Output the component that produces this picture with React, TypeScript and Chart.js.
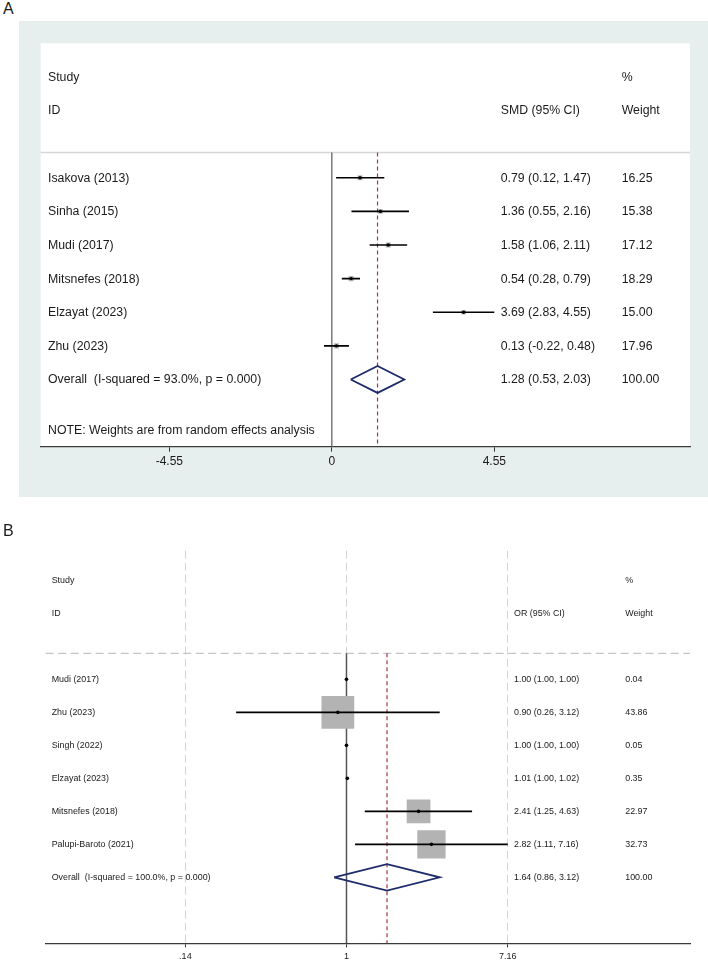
import React, { useEffect, useRef } from "react";
import { Chart, registerables } from "chart.js";

Chart.register(...registerables);

const FONT = '"Liberation Sans", Arial, Helvetica, sans-serif';

// ---------------- Panel A data ----------------
const studiesA = ["Isakova (2013)", "Sinha (2015)", "Mudi (2017)", "Mitsnefes (2018)", "Elzayat (2023)", "Zhu (2023)"];
const smdA = [0.79, 1.36, 1.58, 0.54, 3.69, 0.13];
const lowA = [0.12, 0.55, 1.06, 0.28, 2.83, -0.22];
const highA = [1.47, 2.16, 2.11, 0.79, 4.55, 0.48];
const weightA = [16.25, 15.38, 17.12, 18.29, 15.0, 17.96];
const overallA = [1.28, 0.53, 2.03];
const overallLabelA = "Overall  (I-squared = 93.0%, p = 0.000)";
const noteA = "NOTE: Weights are from random effects analysis";
const tickValuesA = [-4.55, 0, 4.55];
const tickLabelsA = ["-4.55", "0", "4.55"];

// ---------------- Panel B data ----------------
const studiesB = ["Mudi (2017)", "Zhu (2023)", "Singh (2022)", "Elzayat (2023)", "Mitsnefes (2018)", "Palupi-Baroto (2021)"];
const orB = [1.0, 0.9, 1.0, 1.01, 2.41, 2.82];
const lowB = [1.0, 0.26, 1.0, 1.0, 1.25, 1.11];
const highB = [1.0, 3.12, 1.0, 1.02, 4.63, 7.16];
const weightB = [0.04, 43.86, 0.05, 0.35, 22.97, 32.73];
const overallB = [1.64, 0.86, 3.12];
const overallLabelB = "Overall  (I-squared = 100.0%, p = 0.000)";
const tickValuesB = [0.14, 1, 7.16];
const tickLabelsB = [".14", "1", "7.16"];

type Spec = {
  studies: string[];
  est: number[];
  lo: number[];
  hi: number[];
  w: number[];
  overall: number[];
  overallLabel: string;
  estHeader: string;
  note?: string;
  tickValues: number[];
  tickLabels: string[];
  xType: "linear" | "logarithmic";
  xMin: number;
  xMax: number;
  nullValue: number;
  yMin: number;
  yMax: number;
  sepRow: number;
  fontSize: number;
  tickFontSize: number;
  padding: { left: number; right: number; top: number; bottom: number };
  axisHeight: number;
  tickLength: number;
  tickPadding: number;
  cols: number[];
  boxScale: number;
  boxColor: string;
  dotRadius: number;
  outerBg?: string;
  innerBg?: string;
  sepColor: string;
  sepDash: number[];
  sepWidth: number;
  nullColor: string;
  nullWidth: number;
  gridOnArea: boolean;
  ciWidth: number;
};

const fmt = (v: number) => v.toFixed(2);

const forestPlugin = {
  id: "forest",
  beforeDraw(chart: any, _a: any, o: any) {
    const { ctx, chartArea, width, height } = chart;
    ctx.save();
    if (o.outerBg) {
      ctx.fillStyle = o.outerBg;
      ctx.fillRect(0, 0, width, height);
    }
    if (o.innerBg) {
      ctx.fillStyle = o.innerBg;
      ctx.fillRect(chartArea.left, chartArea.top, chartArea.right - chartArea.left, chartArea.bottom - chartArea.top);
    }
    ctx.restore();
  },
  beforeDatasetsDraw(chart: any, _a: any, o: any) {
    const { ctx, chartArea, scales } = chart;
    const y = scales.y.getPixelForValue(o.sepRow);
    ctx.save();
    ctx.strokeStyle = o.sepColor;
    ctx.lineWidth = o.sepWidth;
    ctx.setLineDash(o.sepDash);
    ctx.beginPath();
    ctx.moveTo(chartArea.left, y);
    ctx.lineTo(chartArea.right, y);
    ctx.stroke();
    ctx.restore();
  },
  afterDatasetsDraw(chart: any, _a: any, o: any) {
    const { ctx, chartArea, scales } = chart;
    const ys = scales.y;
    const s: Spec = o.spec;
    const [c0, c1, c2] = s.cols.map((c) => chartArea.left + c);
    ctx.save();
    ctx.fillStyle = "#1a1a1a";
    ctx.font = `${s.fontSize}px ${FONT}`;
    ctx.textBaseline = "middle";
    ctx.textAlign = "left";
    const put = (t: string, x: number, row: number) => ctx.fillText(t, x, ys.getPixelForValue(row) + 0.5);
    put("Study", c0, -2);
    put("ID", c0, -1);
    put(s.estHeader, c1, -1);
    put("%", c2, -2);
    put("Weight", c2, -1);
    s.studies.forEach((name, i) => {
      const row = i + 1;
      put(name, c0, row);
      put(`${fmt(s.est[i])} (${fmt(s.lo[i])}, ${fmt(s.hi[i])})`, c1, row);
      put(fmt(s.w[i]), c2, row);
    });
    const oRow = s.studies.length + 1;
    put(s.overallLabel, c0, oRow);
    put(`${fmt(s.overall[0])} (${fmt(s.overall[1])}, ${fmt(s.overall[2])})`, c1, oRow);
    put("100.00", c2, oRow);
    if (s.note) put(s.note, c0, oRow + 1.5);
    ctx.restore();
  },
};

function buildConfig(s: Spec): any {
  const rows = s.studies.map((_, i) => i + 1);
  const oRow = s.studies.length + 1;
  const [oEst, oLo, oHi] = s.overall;
  const dh = 0.4;
  const datasets: any[] = [];
  const line = (data: any[], color: string, width: number, order: number, dash: number[] = []) => ({
    data,
    showLine: true,
    borderColor: color,
    borderWidth: width,
    borderDash: dash,
    pointRadius: 0,
    fill: false,
    tension: 0,
    order,
  });
  // overall diamond
  datasets.push(
    line(
      [
        { x: oLo, y: oRow },
        { x: oEst, y: oRow - dh },
        { x: oHi, y: oRow },
        { x: oEst, y: oRow + dh },
        { x: oLo, y: oRow },
      ],
      "#1f2c6b",
      1.8,
      1
    )
  );
  // centre dots
  datasets.push({
    data: s.est.map((v, i) => ({ x: v, y: rows[i] })),
    pointStyle: "circle",
    pointRadius: s.dotRadius,
    backgroundColor: "#000",
    borderWidth: 0,
    order: 2,
  });
  // CI lines
  s.studies.forEach((_, i) => {
    datasets.push(line([{ x: s.lo[i], y: rows[i] }, { x: s.hi[i], y: rows[i] }], "#000", s.ciWidth, 3));
  });
  // weight boxes
  datasets.push({
    data: s.est.map((v, i) => ({ x: v, y: rows[i] })),
    pointStyle: "rect",
    pointRadius: s.w.map((w) => (s.boxScale * Math.sqrt(w)) / Math.SQRT2),
    backgroundColor: s.boxColor,
    borderWidth: 0,
    order: 4,
  });
  // overall effect line
  datasets.push(line([{ x: oEst, y: s.sepRow }, { x: oEst, y: s.yMax }], "#a8343f", 1.2, 5, [4, 3]));
  // null line
  datasets.push(line([{ x: s.nullValue, y: s.sepRow }, { x: s.nullValue, y: s.yMax }], s.nullColor, s.nullWidth, 6));

  return {
    type: "scatter",
    data: { datasets },
    plugins: [forestPlugin],
    options: {
      responsive: false,
      animation: false,
      devicePixelRatio: 1,
      events: [],
      layout: { padding: s.padding },
      plugins: {
        legend: { display: false },
        tooltip: { enabled: false },
        forest: {
          spec: s,
          outerBg: s.outerBg,
          innerBg: s.innerBg,
          sepRow: s.sepRow,
          sepColor: s.sepColor,
          sepDash: s.sepDash,
          sepWidth: s.sepWidth,
        },
      },
      scales: {
        x: {
          type: s.xType,
          min: s.xMin,
          max: s.xMax,
          afterBuildTicks: (sc: any) => {
            sc.ticks = s.tickValues.map((v) => ({ value: v }));
          },
          afterFit: (sc: any) => {
            sc.height = s.axisHeight;
          },
          ticks: {
            autoSkip: false,
            maxRotation: 0,
            padding: s.tickPadding,
            color: "#1a1a1a",
            font: { family: FONT, size: s.tickFontSize },
            callback: (_v: any, i: number) => s.tickLabels[i],
          },
          grid: {
            display: true,
            drawOnChartArea: s.gridOnArea,
            drawTicks: true,
            tickLength: s.tickLength,
            tickColor: "#333",
            tickWidth: 1,
            tickBorderDash: [],
            color: "#d4d4d4",
            lineWidth: 1,
          },
          border: {
            display: true,
            color: "#3a3a3a",
            width: 1.3,
            dash: s.gridOnArea ? [8, 4] : [],
          },
        },
        y: {
          type: "linear",
          display: false,
          reverse: true,
          min: s.yMin,
          max: s.yMax,
        },
      },
    },
  };
}

const specA: Spec = {
  studies: studiesA,
  est: smdA,
  lo: lowA,
  hi: highA,
  w: weightA,
  overall: overallA,
  overallLabel: overallLabelA,
  estHeader: "SMD (95% CI)",
  note: noteA,
  tickValues: tickValuesA,
  tickLabels: tickLabelsA,
  xType: "linear",
  xMin: -8.152,
  xMax: 10.03,
  nullValue: 0,
  yMin: -3,
  yMax: 9,
  sepRow: 0.25,
  fontSize: 12.3,
  tickFontSize: 12,
  padding: { left: 21.7, right: 18, top: 22.3, bottom: 0 },
  axisHeight: 50.3,
  tickLength: 5,
  tickPadding: 3,
  cols: [7.3, 460, 581],
  boxScale: 1.2,
  boxColor: "#b8b8b8",
  dotRadius: 1.7,
  outerBg: "#e7eeee",
  innerBg: "#ffffff",
  sepColor: "#d6d6d6",
  sepDash: [],
  sepWidth: 1.5,
  nullColor: "#6e6e6e",
  nullWidth: 1.4,
  gridOnArea: false,
  ciWidth: 1.6,
};

// Panel B canvas spans x -30..738 and y 510..991 (clipped by the page box),
// so the layout padding exceeds Chart.js's point-overflow minimum.
const specB: Spec = {
  studies: studiesB,
  est: orB,
  lo: lowB,
  hi: highB,
  w: weightB,
  overall: overallB,
  overallLabel: overallLabelB,
  estHeader: "OR (95% CI)",
  tickValues: tickValuesB,
  tickLabels: tickLabelsB,
  xType: "logarithmic",
  xMin: 0.02546,
  xMax: 66.16,
  nullValue: 1,
  yMin: -2.9,
  yMax: 9,
  sepRow: 0.21,
  fontSize: 8.9,
  tickFontSize: 9,
  padding: { left: 75.7, right: 48, top: 40.7, bottom: 30 },
  axisHeight: 17.7,
  tickLength: 4,
  tickPadding: 4,
  cols: [6, 468.3, 579.5],
  boxScale: 4.95,
  boxColor: "#b3b3b3",
  dotRadius: 1.8,
  sepColor: "#c4c4c4",
  sepDash: [8, 4.5],
  sepWidth: 1.3,
  nullColor: "#555555",
  nullWidth: 1.5,
  gridOnArea: true,
  ciWidth: 1.6,
};

function ForestCanvas({ spec, left, top, width, height }: { spec: Spec; left: number; top: number; width: number; height: number }) {
  const ref = useRef<HTMLCanvasElement | null>(null);
  useEffect(() => {
    if (!ref.current) return;
    const chart = new Chart(ref.current, buildConfig(spec));
    return () => chart.destroy();
  }, [spec]);
  return (
    <canvas
      ref={ref}
      width={width}
      height={height}
      style={{ position: "absolute", left, top, width, height, display: "block" }}
    />
  );
}

export default function App() {
  const labelStyle: React.CSSProperties = {
    position: "absolute",
    left: 3,
    fontFamily: FONT,
    fontSize: 16,
    lineHeight: "16px",
    color: "#1a1a1a",
  };
  return (
    <div style={{ position: "absolute", left: 0, top: 0, width: 708, height: 961, overflow: "hidden", background: "#fff" }}>
      <ForestCanvas spec={specA} left={19} top={21} width={689} height={476} />
      <ForestCanvas spec={specB} left={-30} top={510} width={768} height={481} />
      <div style={{ ...labelStyle, top: 1.2 }}>A</div>
      <div style={{ ...labelStyle, top: 523 }}>B</div>
    </div>
  );
}
